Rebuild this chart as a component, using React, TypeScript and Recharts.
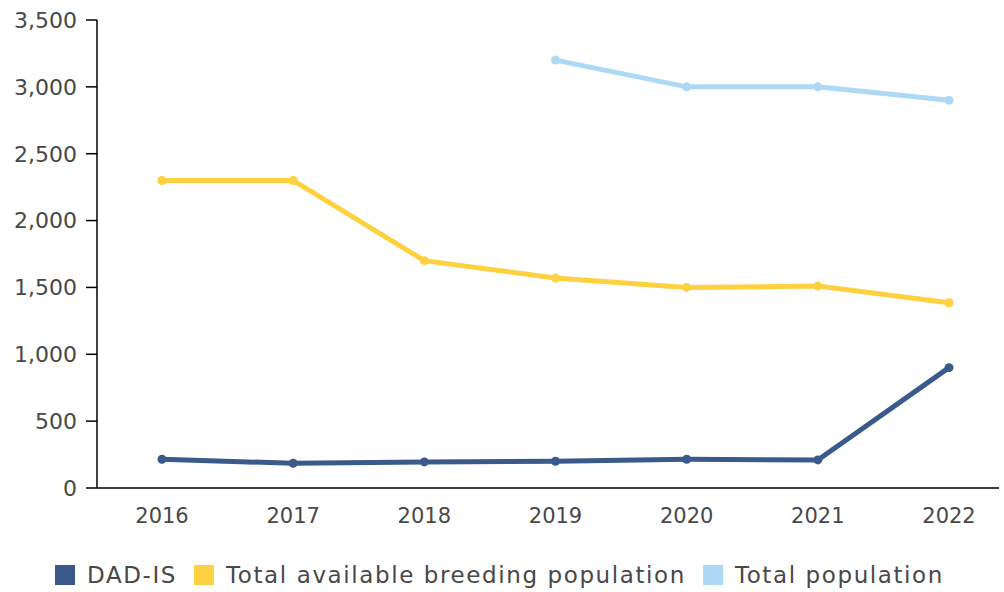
import { LineChart, Line, XAxis, YAxis, Legend } from 'recharts'

const years = ['2016', '2017', '2018', '2019', '2020', '2021', '2022']
const dadIs = [215, 185, 195, 200, 215, 210, 900]
const breeding = [2300, 2300, 1700, 1570, 1500, 1510, 1385]
const totalPop: (number | null)[] = [null, null, null, 3200, 3000, 3000, 2900]
const yTicks = [0, 500, 1000, 1500, 2000, 2500, 3000, 3500]

const series = [
  { key: 'dadIs', name: 'DAD-IS', color: '#3a5a8b' },
  { key: 'breeding', name: 'Total available breeding population', color: '#ffd03f' },
  { key: 'total', name: 'Total population', color: '#aed9f6' },
]

const data = years.map((year, i) => ({
  year,
  dadIs: dadIs[i],
  breeding: breeding[i],
  total: totalPop[i],
}))

const font = '"DejaVu Sans", sans-serif'
const textColor = '#484848'

function LegendRow() {
  return (
    <div
      style={{
        height: 50,
        display: 'flex',
        justifyContent: 'center',
        alignItems: 'flex-end',
        paddingBottom: 7,
        boxSizing: 'border-box',
        fontFamily: font,
        fontSize: 23,
        letterSpacing: 1.6,
        color: textColor,
      }}
    >
      {series.map((s, i) => (
        <div
          key={s.key}
          style={{ display: 'flex', alignItems: 'center', marginRight: i < series.length - 1 ? 17 : 0, height: 20 }}
        >
          <span style={{ width: 20, height: 20, background: s.color, marginRight: 12, display: 'inline-block' }} />
          <span style={{ lineHeight: '20px' }}>{s.name}</span>
        </div>
      ))}
    </div>
  )
}

export default function App() {
  return (
    <div style={{ position: 'absolute', left: 0, top: 0, width: 1004, height: 592, background: '#fff' }}>
      <LineChart width={1004} height={592} data={data} margin={{ top: 20, right: 5, left: 0, bottom: 0 }}>
        <XAxis
          dataKey="year"
          padding={{ left: 65, right: 50 }}
          height={54}
          tickLine={false}
          tickSize={0}
          tickMargin={20}
          axisLine={{ stroke: '#000', strokeWidth: 1.5 }}
          tick={{ fill: textColor, fontSize: 21, fontFamily: font }}
        />
        <YAxis
          width={97}
          domain={[0, 3500]}
          ticks={yTicks}
          interval={0}
          tickSize={11}
          tickMargin={9}
          axisLine={{ stroke: '#000', strokeWidth: 1.5 }}
          tickLine={{ stroke: '#000', strokeWidth: 1.5 }}
          tick={{ fill: textColor, fontSize: 22, fontFamily: font }}
          tickFormatter={(v: number) => v.toLocaleString('en-US')}
        />
        <Legend verticalAlign="bottom" content={() => <LegendRow />} />
        {series.map((s) => (
          <Line
            key={s.key}
            dataKey={s.key}
            name={s.name}
            stroke={s.color}
            strokeWidth={5}
            dot={{ r: 4.5, fill: s.color, stroke: s.color, strokeWidth: 0 }}
            activeDot={false}
            isAnimationActive={false}
          />
        ))}
      </LineChart>
    </div>
  )
}
